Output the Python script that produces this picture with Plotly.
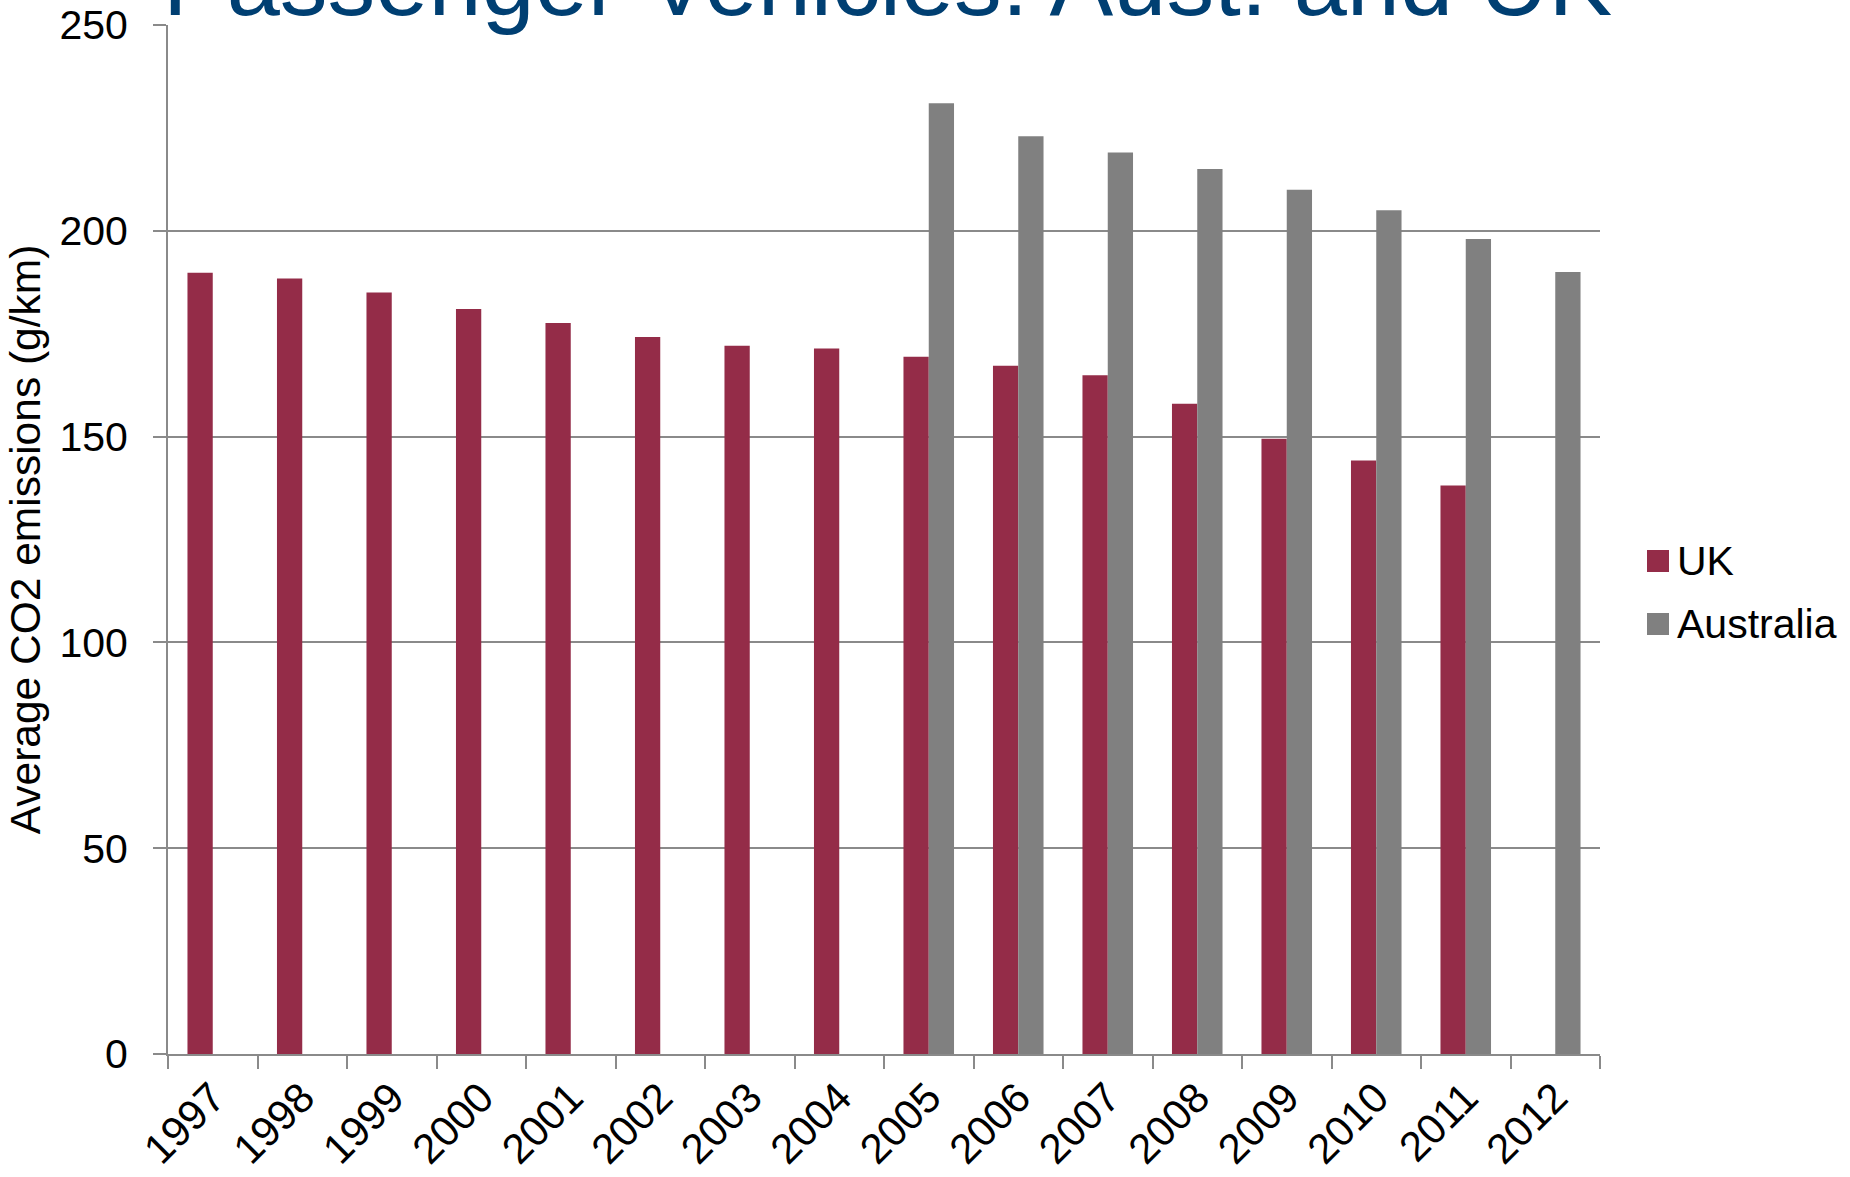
import plotly.graph_objects as go

years = ["1997", "1998", "1999", "2000", "2001", "2002", "2003", "2004",
         "2005", "2006", "2007", "2008", "2009", "2010", "2011", "2012"]
uk_values = [189.8, 188.4, 185.0, 181.0, 177.6, 174.2, 172.1, 171.4,
             169.4, 167.2, 164.9, 158.0, 149.5, 144.2, 138.1, None]
aus_values = [None, None, None, None, None, None, None, None,
              231, 223, 219, 215, 210, 205, 198, 190]
series_names = ["UK", "Australia"]
series_colors = ["#942C48", "#808080"]
title_text = "Passenger Vehicles: Aust. and UK"
y_title = "Average CO2 emissions (g/km)"
y_ticks = [0, 50, 100, 150, 200, 250]

FONT = "Liberation Sans, Arial, sans-serif"
GRID = "#8A8A8A"

W, H = 1850, 1177
ML, MR, MT, MB = 168, 250, 25, 123
PW = W - ML - MR
PH = H - MT - MB


def px_x(px):
    return (px - ML) / PW


def px_y(py):
    return (H - MB - py) / PH


fig = go.Figure()
for name, vals, col in zip(series_names, [uk_values, aus_values], series_colors):
    fig.add_trace(go.Bar(x=years, y=vals, name=name, marker_color=col,
                         marker_line_width=0, showlegend=False))

fig.update_layout(
    width=W, height=H,
    margin=dict(l=ML, r=MR, t=MT, b=MB, autoexpand=False),
    paper_bgcolor="white", plot_bgcolor="white",
    barmode="group", bargap=0.435, bargroupgap=0,
    font=dict(family=FONT, size=41, color="black"),
    showlegend=False,
)
fig.update_xaxes(
    type="category", tickangle=-45, tickson="boundaries",
    ticks="outside", ticklen=13, tickwidth=2, tickcolor=GRID,
    showline=True, linecolor=GRID, linewidth=2, showgrid=False,
    tickfont=dict(size=42, color="black"), automargin=False,
)
fig.update_yaxes(
    range=[0, 250], tickvals=y_ticks, ticks="outside", ticklen=13,
    tickwidth=2, tickcolor=GRID, showline=True, linecolor=GRID, linewidth=2,
    showgrid=True, gridcolor=GRID, gridwidth=2, zeroline=False,
    tickfont=dict(size=41, color="black"), automargin=False,
    ticklabelstandoff=17,
    title=dict(text=y_title, font=dict(size=42.5, color="black"), standoff=6),
)

# Title (partially cut off at the top like the source slide)
fig.add_annotation(text=title_text, xref="paper", yref="paper",
                   x=px_x(887.5), y=px_y(-18), xanchor="center", yanchor="middle",
                   showarrow=False, font=dict(size=95.5, color="#003F72", family=FONT))

# Legend drawn manually (large square keys)
leg_rows = [561, 624]
for name, col, cy in zip(series_names, series_colors, leg_rows):
    fig.add_shape(type="rect", xref="paper", yref="paper",
                  x0=px_x(1647), x1=px_x(1669), y0=px_y(cy - 11), y1=px_y(cy + 11),
                  fillcolor=col, line_width=0)
    fig.add_annotation(text=name, xref="paper", yref="paper",
                       x=px_x(1675), y=px_y(cy), xanchor="left", yanchor="middle",
                       showarrow=False, font=dict(size=41, color="black", family=FONT))

fig.write_html("out.html", config={"displayModeBar": False},
               post_script="document.body.style.margin='0';document.body.style.overflow='hidden';")
